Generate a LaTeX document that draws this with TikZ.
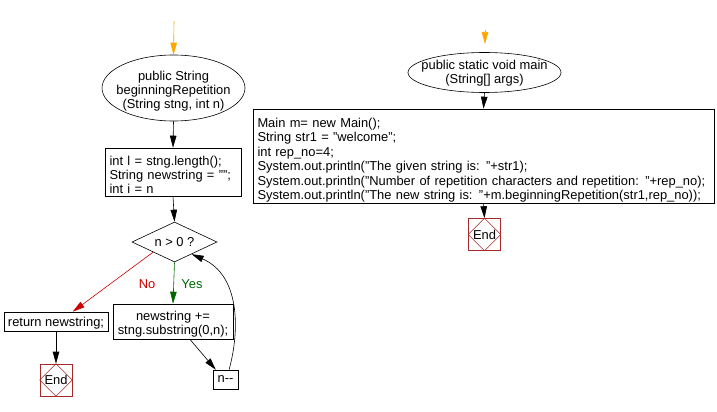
\documentclass[tikz,border=0pt]{standalone}
\usepackage{fontspec}
\setmainfont{Liberation Sans}
\usetikzlibrary{shapes.geometric,arrows.meta,calc}
\definecolor{endred}{HTML}{A52A2A}
\definecolor{nored}{HTML}{CC0000}
\definecolor{yesgreen}{HTML}{006600}
\definecolor{startor}{HTML}{FFA500}
\tikzset{
  every node/.style={font=\fontsize{12.9}{14}\selectfont},
  arr/.style={-{Triangle[length=12pt,width=6.5pt]}, line width=0.6pt},
  startell/.style={draw, ellipse, inner sep=0pt, line width=0.6pt},
  codebox/.style={draw, rectangle, inner sep=0pt, line width=0.6pt},
  decis/.style={draw, diamond, inner sep=0pt, line width=0.6pt},
  txt/.style={inner sep=0pt},
  endbox/.style={draw=endred, rectangle, minimum width=32pt, minimum height=32pt, inner sep=0pt, line width=0.6pt},
  enddia/.style={draw=endred, line width=0.5pt},
}
\begin{document}
\begin{tikzpicture}[x=1pt,y=-1pt]
\useasboundingbox[fill=white] (0,0) rectangle (717,412);

% left flow
\coordinate (s1) at (174,21);
\node[startell, minimum width=143pt, minimum height=66pt] (e1) at (173.5,88) {};
\node[txt, align=center] (e1t) at ($(e1.center)+(0,3.5)$)
  {public String\\beginningRepetition\\(String stng, int n)};
\node[codebox, minimum width=136pt, minimum height=48pt] (b1) at (173,172) {};
\node[txt, text width=128pt, align=left] (b1t) at ($(b1.center)+(0.5,3)$)
  {int l = stng.length();\\String newstring = "";\\int i = n};
\node[decis, minimum width=85pt, minimum height=40pt, aspect=2.1] (d) at (174.5,242) {n > 0 ?};
\node[codebox, minimum width=104pt, minimum height=19pt] (ret) at (56,321.5) {};
\node[txt] (rett) at ($(ret.center)+(0,1.5)$) {return newstring;};
\node[codebox, minimum width=120pt, minimum height=35pt] (b2) at (173,321.5) {};
\node[txt, align=center] (b2t) at ($(b2.center)+(0,3)$) {newstring +=\\stng.substring(0,n);};
\node[codebox, minimum width=25pt, minimum height=19pt] (nm) at (225.5,379.5) {n-{}-};
\node[endbox] (end1) at (56,380) {End};
\draw[enddia] (end1.north) -- (end1.east) -- (end1.south) -- (end1.west) -- cycle;

\draw[arr, draw=startor, -{Triangle[length=12pt,width=6.5pt,fill=startor]}] (s1) -- (e1.north);
\draw[arr] (e1.south) -- (b1.north);
\draw[arr] (b1.south) -- (d.north);
\draw[arr, draw=nored] ($(d.west)!0.5!(d.south)$) -- ($(ret.north west)!0.66!(ret.north east)$);
\draw[arr, draw=yesgreen] (d.south) -- (b2.north);
\node[text=nored] (nolbl) at (147,284) {No};
\node[text=yesgreen] (yeslbl) at (192,284) {Yes};
\draw[arr] (ret.south) -- (end1.north);
\draw[arr] ($(b2.south west)!0.64!(b2.south east)$) -- ($(nm.north west)!0.12!(nm.north east)$);
\draw[arr] ($(nm.north west)!0.64!(nm.north east)$) .. controls (240,330) and (240,275) .. ($(d.east)!0.6!(d.south)$);

% right flow
\coordinate (s2) at (485,30);
\coordinate (s2e) at (485,44);
\node[startell, minimum width=153pt, minimum height=40pt] (e2) at (484.5,72.5) {};
\node[txt, align=center] (e2t) at ($(e2.center)+(0,1)$) {public static void main\\(String[] args)};
\node[codebox, minimum width=461pt, minimum height=94pt] (b3) at (483.5,156) {};
\node[txt, text width=453pt, align=left, font=\fontsize{12.9}{14.5}\selectfont] (b3t) at ($(b3.center)+(0.5,4)$)
  {Main m= new Main();\\String str1 = "welcome";\\int rep\_no=4;\\System.out.println("The given string is: "+str1);\\System.out.println("Number of repetition characters and repetition: "+rep\_no);\\System.out.println("The new string is: "+m.beginningRepetition(str1,rep\_no));};
\node[endbox] (end2) at (484.5,234.5) {End};
\draw[enddia] (end2.north) -- (end2.east) -- (end2.south) -- (end2.west) -- cycle;

\draw[arr, draw=startor, -{Triangle[length=12pt,width=6.5pt,fill=startor]}] (s2) -- (s2e);
\draw[arr] (e2.south) -- (b3.north);
\draw[arr] (b3.south) -- (end2.north);
\end{tikzpicture}
\end{document}
